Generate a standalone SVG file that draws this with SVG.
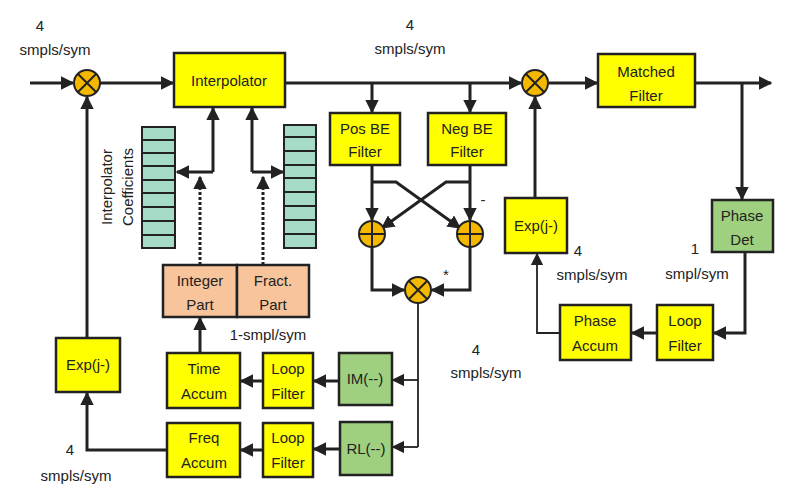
<svg xmlns="http://www.w3.org/2000/svg" width="800" height="497" viewBox="0 0 800 497">
<style>
text{font-family:"Liberation Sans",Arial,sans-serif;fill:#222;font-size:15px;text-anchor:middle}
.lbl{font-size:15px;fill:#333}
.y{fill:#ffff00;stroke:#222;stroke-width:2.5}
.g{fill:#9fd07f;stroke:#222;stroke-width:2.5}
.o{fill:#f8c49c;stroke:#222;stroke-width:2.5}
.t{fill:#a6dcc6;stroke:#222;stroke-width:2}
.m{fill:#f5b800;stroke:#222;stroke-width:2}
.c path,.c line{fill:none;stroke:#222;stroke-width:3}
.c .thin{stroke-width:1.8}
.c .dot{stroke-width:3;stroke-dasharray:3,2}
</style>
<defs>
<marker id="a" viewBox="0 0 10 10" refX="9" refY="5" markerWidth="4.5" markerHeight="4.5" orient="auto" markerUnits="strokeWidth"><path d="M0,0L10,5L0,10z" fill="#222"/></marker>
<marker id="b" viewBox="0 0 10 10" refX="9" refY="5" markerWidth="7" markerHeight="7" orient="auto" markerUnits="strokeWidth"><path d="M0,0L10,5L0,10z" fill="#222"/></marker>
</defs>
<g class="c" id="connectors">
<line x1="30" y1="83" x2="73" y2="83" marker-end="url(#a)"/>
<line x1="100" y1="83" x2="173" y2="83" marker-end="url(#a)"/>
<line x1="286" y1="83" x2="521" y2="83" marker-end="url(#a)"/>
<line x1="372" y1="83" x2="372" y2="112" marker-end="url(#a)"/>
<line x1="470" y1="83" x2="470" y2="112" marker-end="url(#a)"/>
<line x1="549" y1="83" x2="597" y2="83" marker-end="url(#a)"/>
<line x1="696" y1="83" x2="771" y2="83" marker-end="url(#a)"/>
<line x1="742" y1="83" x2="742" y2="199" marker-end="url(#a)"/>
<line x1="87" y1="337" x2="87" y2="97" marker-end="url(#a)"/>
<path d="M167,450H87V393" marker-end="url(#a)"/>
<path d="M213,172V108" marker-end="url(#a)"/>
<path d="M213,172H177" marker-end="url(#a)"/>
<path d="M252,172V108" marker-end="url(#a)"/>
<path d="M252,172H283" marker-end="url(#a)"/>
<line class="dot" x1="200" y1="265" x2="200" y2="177" marker-end="url(#a)"/>
<line class="dot" x1="263" y1="265" x2="263" y2="177" marker-end="url(#a)"/>
<line x1="200" y1="353" x2="200" y2="318" marker-end="url(#a)"/>
<line x1="262" y1="381" x2="241" y2="381" marker-end="url(#a)"/>
<line x1="339" y1="381" x2="314" y2="381" marker-end="url(#a)"/>
<line x1="263" y1="450" x2="241" y2="450" marker-end="url(#a)"/>
<line x1="340" y1="449" x2="314" y2="449" marker-end="url(#a)"/>
<path d="M372,166V220" marker-end="url(#a)"/>
<path d="M470,166V220" marker-end="url(#a)"/>
<path d="M372,182H396L460,228" marker-end="url(#a)"/>
<path d="M470,182H446L382,228" marker-end="url(#a)"/>
<path d="M372,247V290H404" marker-end="url(#a)"/>
<path d="M470,247V290H432" marker-end="url(#a)"/>
<path class="thin" d="M418,303V447"/>
<path class="thin" d="M418,380H393" marker-end="url(#b)"/>
<path class="thin" d="M418,447H393" marker-end="url(#b)"/>
<line x1="535" y1="198" x2="535" y2="97" marker-end="url(#a)"/>
<path d="M745,253V333H714" marker-end="url(#a)"/>
<line x1="657" y1="333" x2="632" y2="333" marker-end="url(#a)"/>
<path class="thin" d="M560,333H537V254" marker-end="url(#b)"/>
</g>
<g id="mix1"><circle class="m" cx="87" cy="83" r="13"/><path d="M78,74L96,92M96,74L78,92" stroke="#222" stroke-width="2"/></g>
<g id="mix2"><circle class="m" cx="535" cy="83" r="13"/><path d="M526,74L544,92M544,74L526,92" stroke="#222" stroke-width="2"/></g>
<g id="mix3"><circle class="m" cx="418" cy="290" r="13"/><path d="M409,281L427,299M427,281L409,299" stroke="#222" stroke-width="2"/></g>
<g id="add1"><circle class="m" cx="372" cy="234" r="13"/><path d="M359,234H385M372,221V247" stroke="#222" stroke-width="2"/></g>
<g id="add2"><circle class="m" cx="470" cy="234" r="13"/><path d="M457,234H483M470,221V247" stroke="#222" stroke-width="2"/></g>
<g id="interp"><rect class="y" x="174" y="53" width="111" height="54"/><text x="229" y="86">Interpolator</text></g>
<g id="posbe"><rect class="y" x="330" y="113" width="70" height="52"/><text x="365" y="134">Pos BE</text><text x="365" y="157">Filter</text></g>
<g id="negbe"><rect class="y" x="428" y="113" width="78" height="52"/><text x="467" y="134">Neg BE</text><text x="467" y="157">Filter</text></g>
<g id="matched"><rect class="y" x="598" y="54" width="97" height="53"/><text x="646" y="77">Matched</text><text x="646" y="101">Filter</text></g>
<g id="phasedet"><rect class="g" x="712" y="200" width="61" height="52"/><text x="742" y="221">Phase</text><text x="742" y="245">Det</text></g>
<g id="exp2"><rect class="y" x="505" y="198" width="62" height="55"/><text x="536" y="231">Exp(j-)</text></g>
<g id="phaseaccum"><rect class="y" x="560" y="305" width="71" height="55"/><text x="595" y="326">Phase</text><text x="595" y="351">Accum</text></g>
<g id="loop3"><rect class="y" x="657" y="305" width="56" height="55"/><text x="685" y="326">Loop</text><text x="685" y="351">Filter</text></g>
<g id="coefL"><rect class="t" x="142" y="127" width="33" height="121"/><path d="M142,140H175M142,153H175M142,166H175M142,180H175M142,193H175M142,207H175M142,221H175M142,235H175" stroke="#222" stroke-width="2"/></g>
<g id="coefR"><rect class="t" x="284" y="125" width="32" height="123"/><path d="M284,137H316M284,151H316M284,165H316M284,178H316M284,192H316M284,206H316M284,220H316M284,234H316" stroke="#222" stroke-width="2"/></g>
<text transform="translate(112,187) rotate(-90)">Interpolator</text>
<text transform="translate(133,187) rotate(-90)">Coefficients</text>
<g id="intpart"><rect class="o" x="163" y="265" width="74" height="52"/><text x="200" y="286">Integer</text><text x="200" y="310">Part</text></g>
<g id="fract"><rect class="o" x="237" y="265" width="72" height="52"/><text x="273" y="286">Fract.</text><text x="273" y="310">Part</text></g>
<g id="exp1"><rect class="y" x="56" y="338" width="64" height="54"/><text x="88" y="370">Exp(j-)</text></g>
<g id="timeaccum"><rect class="y" x="167" y="353" width="73" height="55"/><text x="204" y="374">Time</text><text x="204" y="399">Accum</text></g>
<g id="loop1"><rect class="y" x="263" y="353" width="50" height="55"/><text x="288" y="374">Loop</text><text x="288" y="399">Filter</text></g>
<g id="im"><rect class="g" x="339" y="353" width="53" height="52"/><text x="365" y="384">IM(--)</text></g>
<g id="freqaccum"><rect class="y" x="167" y="423" width="73" height="54"/><text x="204" y="443">Freq</text><text x="204" y="468">Accum</text></g>
<g id="loop2"><rect class="y" x="263" y="423" width="50" height="54"/><text x="288" y="443">Loop</text><text x="288" y="468">Filter</text></g>
<g id="rl"><rect class="g" x="340" y="422" width="52" height="53"/><text x="366" y="454">RL(--)</text></g>
<g class="lbl">
<text x="40" y="31">4</text><text x="55" y="55">smpls/sym</text>
<text x="410" y="30">4</text><text x="410" y="54">smpls/sym</text>
<text x="578" y="256">4</text><text x="592" y="280">smpls/sym</text>
<text x="695" y="254">1</text><text x="697" y="279">smpl/sym</text>
<text x="476" y="355">4</text><text x="486" y="378">smpls/sym</text>
<text x="268" y="340">1-smpl/sym</text>
<text x="70" y="455">4</text><text x="76" y="481">smpls/sym</text>
<text x="483" y="205">-</text><text x="446" y="280">*</text>
</g>
</svg>
